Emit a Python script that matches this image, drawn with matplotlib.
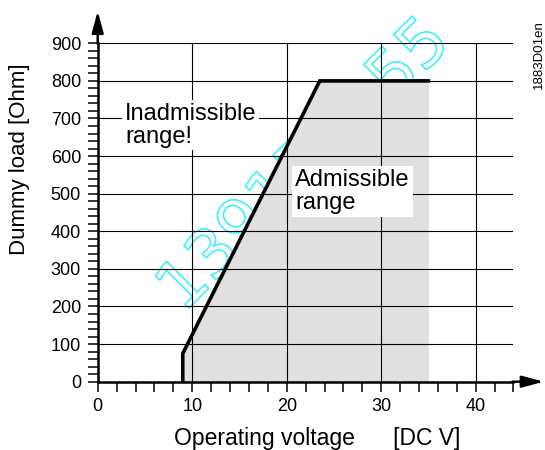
import matplotlib
matplotlib.use('Agg')
import matplotlib.pyplot as plt
import matplotlib.patheffects as pe
import numpy as np

# limit curve of the admissible range
volt = [9, 9, 23.5, 35]
load = [0, 75, 800, 800]

xticks_major = np.arange(0, 41, 10)
xticks_minor = np.arange(0, 45, 2)
yticks_major = np.arange(0, 901, 100)
yticks_minor = np.arange(0, 901, 20)

plt.rcParams['font.family'] = ['Liberation Sans', 'DejaVu Sans']

fig = plt.figure(figsize=(5.45, 4.5), dpi=100)
ax = fig.add_axes([0.1793, 0.1518, 0.7629, 0.752])

ax.set_xlim(0, 44)
ax.set_ylim(0, 900)

# watermark, behind everything
ax.text(21.9, 575, '139170955', rotation=45, ha='center', va='center',
        fontsize=48, family='DejaVu Sans', color='none', zorder=0.5,
        path_effects=[pe.Stroke(linewidth=1.2, foreground='#3ff0ff')])

ax.fill_between(volt, load, color='#e0e0e0', lw=0, zorder=1)
ax.plot(volt, load, color='k', lw=2.6, solid_joinstyle='miter', zorder=3)

ax.set_xticks(xticks_major)
ax.set_xticks(xticks_minor, minor=True)
ax.set_yticks(yticks_major)
ax.set_yticks(yticks_minor, minor=True)
ax.tick_params(which='both', direction='out', length=7, width=1.1, color='k')
ax.tick_params(axis='x', labelsize=13, pad=5)
ax.tick_params(axis='y', labelsize=13, pad=5)
ax.grid(True, which='major', color='k', lw=0.8, zorder=2)

for s in ['top', 'right']:
    ax.spines[s].set_visible(False)
for s in ['left', 'bottom']:
    ax.spines[s].set_linewidth(1.8)

# axis arrows
ax.annotate('', xy=(0, 986), xytext=(0, 899),
            arrowprops=dict(arrowstyle='-|>,head_length=1.3,head_width=0.35',
                            lw=1.8, color='k', shrinkA=0, shrinkB=0),
            annotation_clip=False)
ax.annotate('', xy=(47.2, 0), xytext=(43.9, 0),
            arrowprops=dict(arrowstyle='-|>,head_length=1.3,head_width=0.35',
                            lw=1.8, color='k', shrinkA=0, shrinkB=0),
            annotation_clip=False)

ax.text(2.9, 742, 'Inadmissible\nrange!', fontsize=17, ha='left', va='top',
        linespacing=1.05, zorder=4,
        bbox=dict(facecolor='white', edgecolor='none', pad=2))
ax.text(20.9, 565, 'Admissible\nrange', fontsize=17, ha='left', va='top',
        linespacing=1.05, zorder=4,
        bbox=dict(facecolor='white', edgecolor='none', pad=2))

fig.text(0.035, 0.647, 'Dummy load [Ohm]', rotation=90, fontsize=16,
         ha='center', va='center')
fig.text(0.582, 0.01, 'Operating voltage      [DC V]', fontsize=16.5,
         ha='center', va='baseline')
fig.text(0.989, 0.878, '1883D01en', rotation=90, fontsize=9.5,
         ha='center', va='center')

fig.savefig('out.png', dpi=100)
